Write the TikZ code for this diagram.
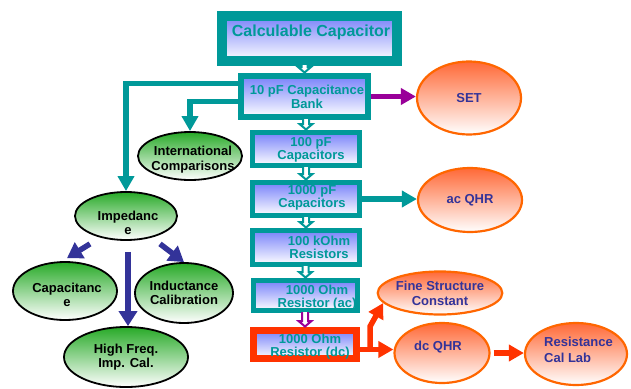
\documentclass[tikz,border=0pt]{standalone}
\usepackage{fontspec}
\setmainfont{Liberation Sans}
\usetikzlibrary{arrows.meta,shapes.geometric,calc}
\definecolor{tealc}{RGB}{0,153,153}
\definecolor{purp}{RGB}{153,0,153}
\definecolor{redc}{RGB}{255,51,0}
\definecolor{indig}{RGB}{51,51,153}
\definecolor{orb}{RGB}{255,102,0}
\definecolor{ortop}{RGB}{255,105,55}
\definecolor{grtop}{RGB}{40,170,40}
\definecolor{bltop}{RGB}{120,130,250}
\newcommand\hollowarr[3]{%
  \path[draw=#3, fill=white, line width=2pt, line join=miter]
    let \p1=(#1.south), \p2=(#2.north) in
    (\x2-3pt,\y1+1pt) -- (\x2-3pt,\y2+6pt) -- (\x2-6.5pt,\y2+6pt) -- (\x2,\y2+0.5pt)
    -- (\x2+6.5pt,\y2+6pt) -- (\x2+3pt,\y2+6pt) -- (\x2+3pt,\y1+1pt);}
\tikzset{
  boxn/.style={rectangle, draw=tealc, line width=5pt, top color=bltop, bottom color=white, inner sep=0pt},
  boxt/.style={text=tealc, font=\bfseries\fontsize{13}{12.5}\selectfont, align=center, inner sep=0pt},
  gell/.style={ellipse, draw=black, line width=1.8pt, top color=grtop, bottom color=white, inner sep=0pt,
    font=\bfseries\fontsize{13}{14.5}\selectfont, align=center},
  gtext/.style={font=\bfseries\fontsize{13}{14.5}\selectfont, align=center, inner sep=0pt},
  oell/.style={ellipse, draw=orb, line width=2.2pt, top color=ortop, bottom color=white, inner sep=0pt,
    text=indig, font=\bfseries\fontsize{13}{15}\selectfont, align=center},
  otext/.style={text=indig, font=\bfseries\fontsize{13}{16}\selectfont, inner sep=0pt},
  fat/.style={line width=5.5pt, -{Triangle[width=16pt,length=15pt]}},
  fatb/.style={line width=5.5pt, -{Triangle[width=18pt,length=15pt]}},
}
\begin{document}
\begin{tikzpicture}[x=1pt,y=-1pt]
\useasboundingbox (0,0) rectangle (631,388);
% boxes
\node[boxn, line width=10pt, minimum width=175, minimum height=45] (calc) at (309.5,38.5) {};
\node[boxt, font=\bfseries\fontsize{16}{18}\selectfont] (calct) at (311,32) {Calculable Capacitor};
\node[boxn, line width=6pt, minimum width=127, minimum height=41] (bank) at (304.5,96.5) {};
\node[boxt, font=\bfseries\fontsize{13}{14}\selectfont] (bankt) at (307,96.5) {10 pF Capacitance\\Bank};
\node[boxn, minimum width=107, minimum height=33] (c100) at (306,149) {};
\node[boxt] (c100t) at (311,150) {100 pF\\Capacitors};
\node[boxn, minimum width=107, minimum height=33] (c1000) at (306,199) {};
\node[boxt] (c1000t) at (312,198) {1000 pF\\Capacitors};
\node[boxn, minimum width=107, minimum height=34] (r100k) at (306,247.5) {};
\node[boxt] (r100kt) at (319,247.5) {100 kOhm\\Resistors};
\node[boxn, minimum width=104, minimum height=30] (rac) at (305.5,295.5) {};
\node[boxt] (ract) at (317,297.5) {1000 Ohm\\Resistor (ac)};
\node[boxn, draw=redc, line width=7pt, minimum width=103, minimum height=28] (rdc) at (305,344.5) {};
\node[boxt] (rdct) at (310,346.5) {1000 Ohm\\Resistor (dc)};
% green ellipses
\node[gell, minimum width=104, minimum height=48] (intl) at (190,156) {};
\node[gtext] (intlt) at (193,159.5) {International\\Comparisons};
\node[gell, minimum width=102, minimum height=48] (imp) at (126,216) {};
\node[gtext] (impt) at (128,223) {Impedanc\\e};
\node[gell, minimum width=104, minimum height=58] (cap) at (65,291) {};
\node[gtext] (capt) at (67,295) {Capacitanc\\e};
\node[gell, minimum width=98, minimum height=60] (ind) at (184,293) {Inductance\\Calibration};
\node[gell, minimum width=124, minimum height=60] (hf) at (126,357) {High Freq.\\Imp. Cal.};
% orange ellipses
\node[oell, minimum width=104, minimum height=73] (set) at (469,98) {SET};
\node[oell, minimum width=104, minimum height=64] (acq) at (470,200) {ac QHR};
\node[oell, minimum width=114, minimum height=43] (fsc) at (440,293) {Fine Structure\\Constant};
\node[oell, minimum width=95, minimum height=60] (dcq) at (442,353) {};
\node[otext] (dcqt) at (438,347) {dc QHR};
\node[oell, minimum width=102, minimum height=62] (rcl) at (576,354) {};
\node[otext, align=left] (rclt) at (578.5,350) {Resistance\\Cal Lab};
% hollow arrows
\hollowarr{calc}{bank}{tealc}
\hollowarr{bank}{c100}{tealc}
\hollowarr{c100}{c1000}{tealc}
\hollowarr{c1000}{r100k}{tealc}
\hollowarr{r100k}{rac}{tealc}
\hollowarr{rac}{rdc}{purp}
% teal arrows
\draw[fat, draw=tealc] ($(bank.west)+(3,-13)$) -| (imp.north);
\draw[fat, draw=tealc] ($(bank.west)+(3,5)$) -| (intl.north);
\draw[fat, draw=tealc] (c1000.east) -- (c1000.east -| acq.west);
% purple
\draw[fat, draw=purp] (bank.east) -- (bank.east -| set.west);
% red
\coordinate (b1) at ($(rdc.east)+(0,5)$);
\coordinate (b2) at ($(b1)+(10,0)$);
\draw[fat, draw=redc] (b1) -- (b1 -| dcq.west);
\draw[fat, draw=redc] (b2) -- ++(0,-23) -- (fsc.190);
\draw[fat, draw=redc, shorten <=3pt] (dcq.east) -- (dcq.east -| rcl.west);
% blue
\draw[fatb, draw=indig] ($(imp.south)+(-36,3)$) -- ($(cap.north)+(2,-3)$);
\draw[fatb, draw=indig] ($(imp.south)+(34,3)$) -- (ind.north);
\draw[fatb, draw=indig] ($(imp.south)+(2,11)$) -- ($(hf.north)+(2,0)$);
\end{tikzpicture}
\end{document}
